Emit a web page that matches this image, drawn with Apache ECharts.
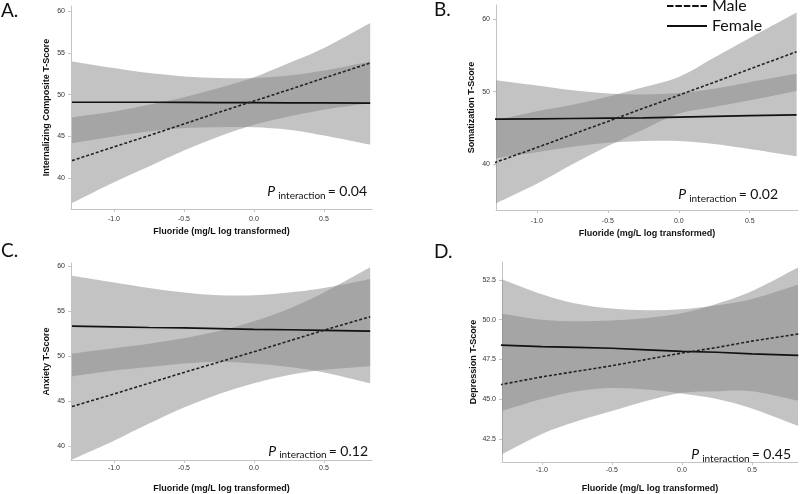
<!DOCTYPE html>
<html><head><meta charset="utf-8">
<script src="https://cdn.jsdelivr.net/npm/echarts@6/dist/echarts.min.js"></script>
<style>html,body{margin:0;padding:0;background:#fff}#c{width:800px;height:494px}</style>
</head><body><div id="c"></div>
<script>
// ---- data ----
const fluoride = [-1.3, -1.0, -0.75, -0.5, -0.25, 0, 0.25, 0.5, 0.83];

// A. Internalizing Composite
const aFemale   = [49.1, 49.1, 49.1, 49.08, 49.06, 49.05, 49.03, 49.02, 49.0];
const aFemaleHi = [54.0, 53.2, 52.6, 52.2, 52.0, 52.0, 52.3, 52.9, 54.0];
const aFemaleLo = [44.2, 45.0, 45.6, 46.0, 46.1, 46.1, 45.8, 45.1, 44.0];
const aMale     = [42.1, 43.75, 45.1, 46.5, 47.9, 49.25, 50.6, 52.0, 53.8];
const aMaleHi   = [47.3, 48.0, 48.8, 49.7, 50.8, 52.1, 53.8, 55.6, 58.6];
const aMaleLo   = [37.0, 39.5, 41.4, 43.3, 45.0, 46.4, 47.4, 48.2, 49.0];

// B. Somatization
const bFemale   = [46.2, 46.25, 46.3, 46.35, 46.4, 46.5, 46.6, 46.7, 46.8];
const bFemaleHi = [51.6, 50.85, 50.2, 49.75, 49.6, 49.8, 50.4, 51.3, 52.45];
const bFemaleLo = [40.8, 41.65, 42.4, 42.95, 43.2, 43.2, 42.8, 42.1, 41.1];
const bMale     = [40.2, 42.3, 44.1, 45.9, 47.7, 49.5, 51.3, 53.1, 55.5];
const bMaleHi   = [46.0, 47.3, 48.2, 49.3, 50.6, 52.0, 54.7, 57.4, 60.9];
const bMaleLo   = [34.5, 37.3, 40.0, 42.5, 44.8, 47.0, 47.9, 48.8, 50.1];

// C. Anxiety
const cFemale   = [53.35, 53.28, 53.2, 53.15, 53.08, 53.0, 52.95, 52.88, 52.8];
const cFemaleHi = [58.95, 58.2, 57.6, 57.1, 56.8, 56.8, 57.1, 57.6, 58.6];
const cFemaleLo = [47.75, 48.4, 48.8, 49.2, 49.4, 49.2, 48.8, 48.2, 47.0];
const cMale     = [44.4, 45.8, 47.0, 48.2, 49.35, 50.5, 51.7, 52.9, 54.4];
const cMaleHi   = [50.3, 50.9, 51.4, 52.0, 52.8, 53.9, 55.3, 57.1, 59.9];
const cMaleLo   = [38.5, 40.6, 42.5, 44.3, 45.8, 47.0, 47.9, 48.5, 48.9];

// D. Depression
const dFemale   = [48.4, 48.3, 48.25, 48.2, 48.1, 48.0, 47.95, 47.85, 47.75];
const dFemaleHi = [52.6, 51.6, 51.0, 50.7, 50.6, 50.65, 50.9, 51.3, 52.2];
const dFemaleLo = [44.2, 45.0, 45.5, 45.7, 45.6, 45.35, 45.0, 44.4, 43.3];
const dMale     = [45.9, 46.4, 46.75, 47.1, 47.5, 47.9, 48.25, 48.65, 49.1];
const dMaleHi   = [50.4, 50.0, 49.9, 49.95, 50.1, 50.4, 51.0, 51.8, 53.3];
const dMaleLo   = [41.45, 42.8, 43.6, 44.25, 44.9, 45.4, 45.5, 45.5, 44.9];

const xTicks  = [-1.0, -0.5, 0.0, 0.5];
const yTicksA = [40, 45, 50, 55, 60];
const yTicksB = [40, 50, 60];
const yTicksC = [40, 45, 50, 55, 60];
const yTicksD = [42.5, 45.0, 47.5, 50.0, 52.5];

const panelLetters = ['A.', 'B.', 'C.', 'D.'];
const yTitles = ['Internalizing Composite T-Score', 'Somatization T-Score', 'Anxiety T-Score', 'Depression T-Score'];
const xTitle = 'Fluoride (mg/L log transformed)';
const pValues = ['0.04', '0.02', '0.12', '0.45'];

// ---- layout ----
const panels = [
  {grid:{left:71, top:6, width:301, height:203}, x:[-1.307,0.843], y:[36.3,60.64], yt:yTicksA, dec:0, xm:7, xg:18, yg:20, letter:[1,10.5], p:[367,196.5],
   f:[aFemale,aFemaleLo,aFemaleHi], m:[aMale,aMaleLo,aMaleHi]},
  {grid:{left:496, top:5, width:302, height:205}, x:[-1.288,0.84], y:[33.7,61.93], yt:yTicksB, dec:0, xm:8, xg:19, yg:20, letter:[434,10], p:[778,199.3],
   f:[bFemale,bFemaleLo,bFemaleHi], m:[bMale,bMaleLo,bMaleHi]},
  {grid:{left:71, top:263, width:301, height:197}, x:[-1.307,0.843], y:[38.45,60.38], yt:yTicksC, dec:0, xm:5, xg:24, yg:20, letter:[1,251], p:[368,456],
   f:[cFemale,cFemaleLo,cFemaleHi], m:[cMale,cMaleLo,cMaleHi]},
  {grid:{left:502, top:262, width:296, height:204}, x:[-1.284,0.828], y:[41.04,53.63], yt:yTicksD, dec:1, xm:5, xg:22, yg:20, letter:[434,252], p:[791,459.3],
   f:[dFemale,dFemaleLo,dFemaleHi], m:[dMale,dMaleLo,dMaleHi]}
];

const axisGray = '#c4c4c4';
const grids = [], xAxes = [], yAxes = [], series = [], graphics = [];

function pairs(vals) { return fluoride.map((x, i) => [x, vals[i]]); }

// smooth curve (Catmull-Rom as cubic Bezier) through pixel points
function curve(pts, start) {
  let d = start ? 'M' + pts[0][0] + ',' + pts[0][1] : 'L' + pts[0][0] + ',' + pts[0][1];
  for (let i = 0; i < pts.length - 1; i++) {
    const p0 = pts[Math.max(i - 1, 0)], p1 = pts[i], p2 = pts[i + 1], p3 = pts[Math.min(i + 2, pts.length - 1)];
    const c1 = [p1[0] + (p2[0] - p0[0]) / 6, p1[1] + (p2[1] - p0[1]) / 6];
    const c2 = [p2[0] - (p3[0] - p1[0]) / 6, p2[1] - (p3[1] - p1[1]) / 6];
    d += 'C' + c1[0] + ',' + c1[1] + ' ' + c2[0] + ',' + c2[1] + ' ' + p2[0] + ',' + p2[1];
  }
  return d;
}

function band(gi, lo, hi) {
  series.push({type:'custom', xAxisIndex:gi, yAxisIndex:gi, silent:true, z:1, animation:false,
    data:fluoride.map((x, i) => [x, lo[i], hi[i]]),
    encode:{x:0, y:[1, 2]},
    renderItem:function (params, api) {
      if (params.dataIndex !== 0) return null;
      const upper = fluoride.map((x, i) => api.coord([x, hi[i]]));
      const lower = fluoride.map((x, i) => api.coord([x, lo[i]])).reverse();
      const cs = params.coordSys;
      return {type:'path', shape:{pathData: curve(upper, true) + curve(lower, false) + 'Z'},
        style:{fill:'rgb(135,135,135)', opacity:0.5, stroke:null},
        clipPath:{type:'rect', shape:{x:cs.x, y:cs.y, width:cs.width, height:cs.height}}};
    }});
}

const ctx = document.createElement('canvas').getContext('2d');
function tw(font, s) { ctx.font = font; return ctx.measureText(s).width; }

panels.forEach((p, i) => {
  grids.push(Object.assign({containLabel:false}, p.grid));
  xAxes.push({gridIndex:i, type:'value', min:p.x[0], max:p.x[1],
    axisLine:{show:true, onZero:false, lineStyle:{color:axisGray, width:1}},
    axisTick:{show:true, length:3, customValues:xTicks, lineStyle:{color:axisGray}},
    axisLabel:{show:true, customValues:xTicks, formatter:v=>Number(v).toFixed(1), fontSize:7, color:'#333', margin:p.xm, fontFamily:'Liberation Sans'},
    splitLine:{show:false},
    name:xTitle, nameLocation:'middle', nameGap:p.xg,
    nameTextStyle:{fontWeight:'bold', fontSize:9, fontFamily:'Liberation Sans', color:'#111'}});
  yAxes.push({gridIndex:i, type:'value', min:p.y[0], max:p.y[1],
    axisLine:{show:true, onZero:false, lineStyle:{color:axisGray, width:1}},
    axisTick:{show:true, length:3, customValues:p.yt, lineStyle:{color:axisGray}},
    axisLabel:{show:true, customValues:p.yt, formatter:v=>Number(v).toFixed(p.dec), fontSize:7, color:'#333', margin:6, fontFamily:'Liberation Sans'},
    splitLine:{show:false},
    name:yTitles[i], nameLocation:'middle', nameGap:p.yg, nameRotate:90,
    nameTextStyle:{fontWeight:'bold', fontSize:9, fontFamily:'Liberation Sans', color:'#111'}});
  band(i, p.f[1], p.f[2]);
  band(i, p.m[1], p.m[2]);
  series.push({type:'line', name:'Female', xAxisIndex:i, yAxisIndex:i, data:pairs(p.f[0]), symbol:'none', showSymbol:false,
    itemStyle:{color:'#111'}, lineStyle:{color:'#111', width:1.7}, z:3, animation:false});
  series.push({type:'line', name:'Male', xAxisIndex:i, yAxisIndex:i, data:pairs(p.m[0]), symbol:'none', showSymbol:false,
    itemStyle:{color:'#222'}, lineStyle:{color:'#222', width:1.6, type:[3,2]}, z:3, animation:false});

  graphics.push({type:'text', x:p.letter[0], y:p.letter[1],
    style:{text:panelLetters[i], font:'19px Lato', fill:'#111', align:'left', verticalAlign:'middle'}});

  // P interaction label, right-aligned at anchor
  const fBig = 'italic 14px Lato', fSub = '10px Lato', fNum = '14px Lato';
  const sNum = '= ' + pValues[i];
  const wP = tw(fBig, 'P'), wS = tw(fSub, 'interaction'), wN = tw(fNum, sNum);
  const right = p.p[0], base = p.p[1];
  const x0 = right - (wP + 3 + wS + 2 + wN);
  graphics.push({type:'text', x:x0, y:base - 5, style:{text:'P', font:fBig, fill:'#111', align:'left', verticalAlign:'middle'}});
  graphics.push({type:'text', x:x0 + wP + 3, y:base - 1, style:{text:'interaction', font:fSub, fill:'#111', align:'left', verticalAlign:'middle'}});
  graphics.push({type:'text', x:right, y:base - 5, style:{text:sNum, font:fNum, fill:'#111', align:'right', verticalAlign:'middle'}});
});

const dashIcon = 'path://M0,0h6.5v2h-6.5z M8.4,0h6.5v2h-6.5z M16.8,0h6.5v2h-6.5z M25.2,0h6.5v2h-6.5z M33.5,0h6.5v2h-6.5z';
const solidIcon = 'path://M0,0h40v2h-40z';

const chart = echarts.init(document.getElementById('c'), null, {renderer:'canvas'});
chart.setOption({
  animation:false,
  backgroundColor:'#fff',
  grid:grids, xAxis:xAxes, yAxis:yAxes, series:series, graphic:graphics,
  legend:{show:true, orient:'vertical', left:662, top:-7, padding:5, itemWidth:40, itemHeight:2, itemGap:4,
    symbolKeepAspect:false, selectedMode:false,
    textStyle:{fontFamily:'Lato', fontSize:16, color:'#111'},
    data:[{name:'Male', icon:dashIcon, itemStyle:{color:'#111'}},
          {name:'Female', icon:solidIcon, itemStyle:{color:'#111'}}]}
});
</script></body></html>
